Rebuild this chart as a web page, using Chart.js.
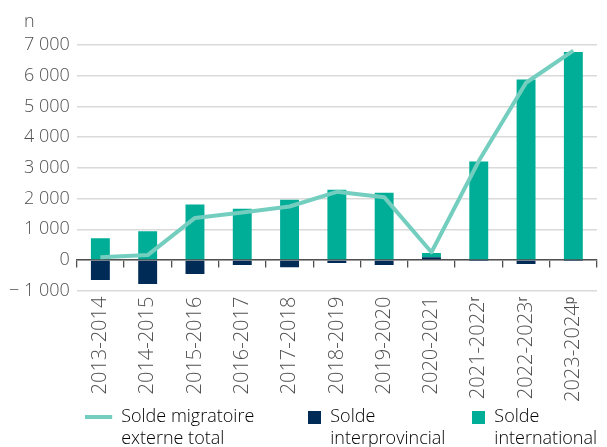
<!DOCTYPE html>
<html>
<head>
<meta charset="utf-8">
<script src="https://cdn.jsdelivr.net/npm/chart.js@4.4.1/dist/chart.umd.min.js"></script>
<style>
  html, body { margin: 0; padding: 0; background: #fff; }
  #wrap { position: relative; width: 607px; height: 447px; }
</style>
</head>
<body>
<div id="wrap"><canvas id="soldeChart"></canvas></div>
<script>
// data
const periods = [
  '2013-2014', '2014-2015', '2015-2016', '2016-2017', '2017-2018', '2018-2019',
  '2019-2020', '2020-2021', '2021-2022ʳ', '2022-2023ʳ', '2023-2024ᵖ'
];
const soldeTotal = [85, 160, 1370, 1545, 1740, 2220, 2045, 250, 3220, 5770, 6815];
const soldeInterprovincial = [-655, -785, -460, -165, -240, -100, -165, 85, -10, -130, -10];
const soldeInternational = [710, 935, 1805, 1665, 1960, 2290, 2190, 145, 3205, 5880, 6775];
const legendText = [
  ['Solde migratoire', 'externe total'],
  ['Solde', 'interprovincial'],
  ['Solde', 'international']
];
const yMin = -1000;
const yMax = 7000;
const yStep = 1000;
const unitText = 'n';

const TEAL = '#00ae98';
const NAVY = '#002b57';
const LINE = '#74cebf';
const GREY = '#505050';

Chart.defaults.font.family = '"Open Sans", sans-serif';
Chart.defaults.font.weight = '300';
Chart.defaults.font.size = 18;
Chart.defaults.color = GREY;

// small canvases used as legend markers
function squareMarker(color) {
  const c = document.createElement('canvas');
  c.width = 13; c.height = 13;
  const g = c.getContext('2d');
  g.fillStyle = color;
  g.fillRect(0, 0, 13, 13);
  return c;
}
function lineMarker(color) {
  const c = document.createElement('canvas');
  c.width = 41; c.height = 4;
  const g = c.getContext('2d');
  g.fillStyle = color;
  g.fillRect(0, 0, 27, 4);
  return c;
}
const markers = [lineMarker(LINE), squareMarker(NAVY), squareMarker(TEAL)];
// extra room after items (the reference spaces its items unevenly)
const itemExtra = ['\u2003\u2003\u2003', '\u2003\u2002', ''];

// multi-line legend text; the width is measured on the longest line
function multiLine(lines, extra) {
  const arr = lines.slice();
  const longest = lines.reduce((a, b) => (a.length > b.length ? a : b));
  arr.toString = () => longest + extra;
  return arr;
}

function fmt(v) {
  const s = Math.abs(v).toString().replace(/\B(?=(\d{3})+(?!\d))/g, ' ');
  return v < 0 ? '− ' + s : s;
}

const unitLabel = {
  id: 'unitLabel',
  afterDraw(chart) {
    const ctx = chart.ctx;
    ctx.save();
    ctx.font = '300 18px "Open Sans", sans-serif';
    ctx.fillStyle = GREY;
    ctx.textBaseline = 'middle';
    ctx.fillText(unitText, 24, 22);
    ctx.restore();
  }
};

// let the legend's second text line show below its one-line box
const legendRoom = {
  id: 'legendRoom',
  afterLayout(chart) {
    chart.legend.bottom = chart.height;
    chart.legend.height = chart.height - chart.legend.top;
  }
};

new Chart(document.getElementById('soldeChart'), {
  data: {
    labels: periods,
    datasets: [
      {
        type: 'line',
        label: 'Solde migratoire externe total',
        data: soldeTotal,
        borderColor: LINE,
        borderWidth: 4,
        pointRadius: 0,
        tension: 0,
        borderJoinStyle: 'round',
        stack: 'total',
        order: 0
      },
      {
        type: 'bar',
        label: 'Solde interprovincial',
        data: soldeInterprovincial,
        backgroundColor: NAVY,
        barPercentage: 0.4,
        categoryPercentage: 1,
        stack: 'bars',
        order: 1
      },
      {
        type: 'bar',
        label: 'Solde international',
        data: soldeInternational,
        backgroundColor: TEAL,
        barPercentage: 0.4,
        categoryPercentage: 1,
        stack: 'bars',
        order: 2
      }
    ]
  },
  options: {
    responsive: true,
    maintainAspectRatio: false,
    animation: false,
    layout: { padding: { left: 2, right: 10, top: 45, bottom: 11 } },
    plugins: {
      tooltip: { enabled: false },
      legend: {
        position: 'bottom',
        align: 'end',
        labels: {
          usePointStyle: true,
          boxWidth: 13,
          boxHeight: 13,
          padding: 0,
          color: '#333333',
          font: { size: 18, lineHeight: 1.2 },
          generateLabels: () => legendText.map((text, i) => ({
            text: multiLine(text, itemExtra[i]),
            pointStyle: markers[i],
            fillStyle: 'transparent',
            strokeStyle: 'transparent',
            lineWidth: 0,
            datasetIndex: i
          }))
        }
      }
    },
    scales: {
      x: {
        stacked: true,
        grid: { display: false, drawTicks: false },
        border: { display: false },
        ticks: { minRotation: 90, maxRotation: 90, padding: 6, color: GREY, autoSkip: false, font: { size: 20 } }
      },
      x2: {
        axis: 'x',
        type: 'category',
        labels: periods,
        position: { y: 0 },
        offset: true,
        grid: { drawOnChartArea: false, offset: true, tickLength: 7, color: GREY, lineWidth: 1.3 },
        border: { display: true, color: GREY, width: 1.5 },
        ticks: { display: false }
      },
      y: {
        stacked: true,
        min: yMin,
        max: yMax,
        grid: { color: '#dadada', lineWidth: 1.5, drawTicks: false },
        border: { display: false },
        ticks: { stepSize: yStep, padding: 7, color: GREY, callback: fmt }
      }
    }
  },
  plugins: [unitLabel, legendRoom]
});
</script>
</body>
</html>
